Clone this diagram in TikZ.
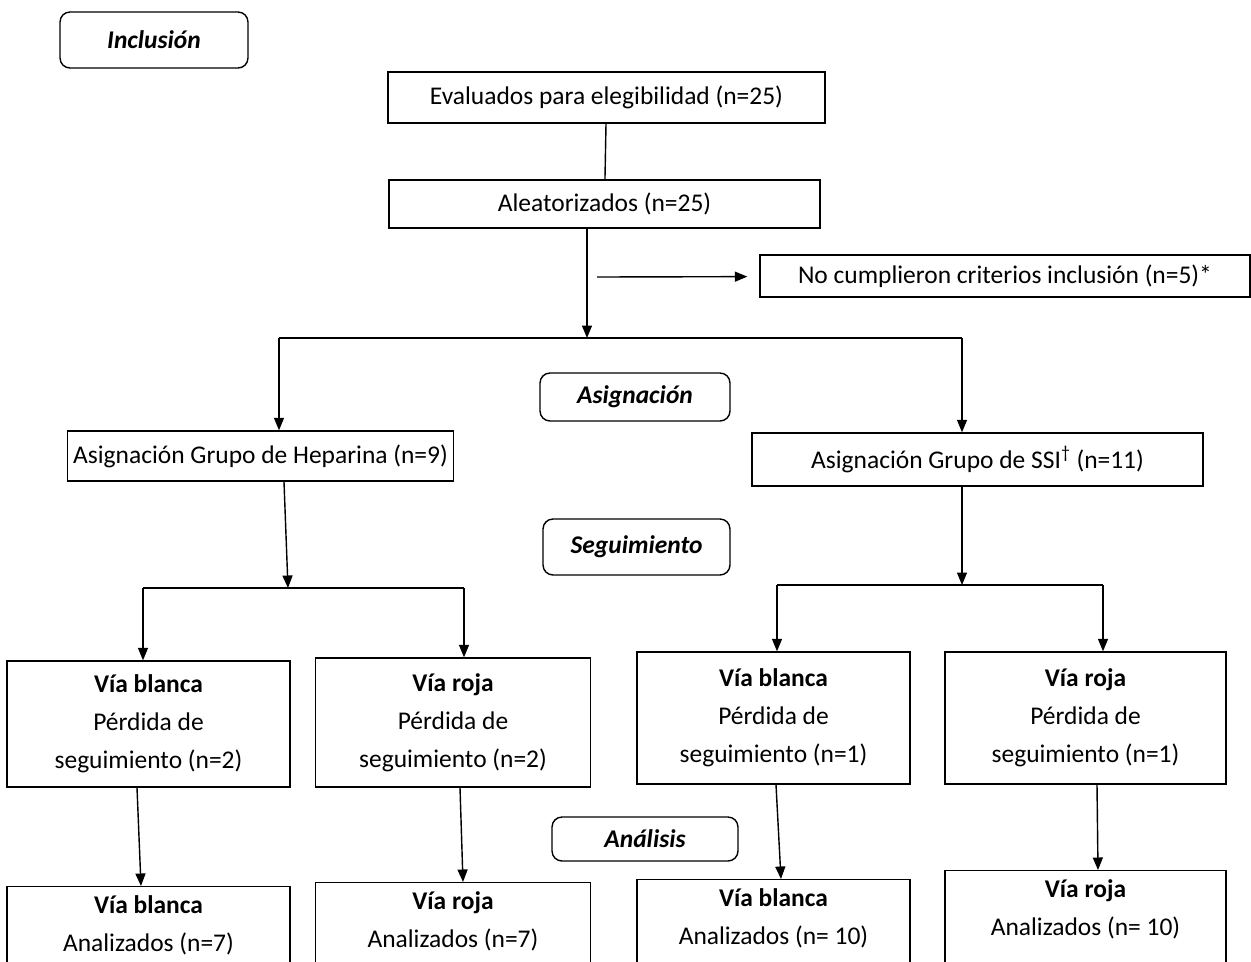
\documentclass[tikz,border=0pt]{standalone}
\usepackage{fontspec}
\setmainfont{Carlito}
\usetikzlibrary{arrows.meta, positioning, calc}

\begin{document}
\begin{tikzpicture}[
  x=0.02cm, y=-0.02cm,
  >={Triangle[length=0.25cm, width=0.2cm]},
  line width=0.8pt,
  every node/.style={font=\fontsize{14.5}{21.5}\selectfont},
  stage/.style={rectangle, draw, rounded corners=0.2cm, minimum height=1.12cm, font=\fontsize{14.5}{16}\selectfont\bfseries\itshape},
  box/.style={rectangle, draw, align=center, minimum height=0.94cm},
  arm/.style={rectangle, draw, align=center, minimum height=2.64cm},
  result/.style={rectangle, draw, align=center, anchor=north, inner ysep=0.18cm, text depth=1.6cm},
]
  \useasboundingbox (0,0) rectangle (1251,961);

  \node[stage, minimum width=3.76cm] (incl) at (154,40) {Inclusión};
  \node[box, minimum width=8.74cm, minimum height=1.02cm] (eval) at (606.5,97.5) {Evaluados para elegibilidad (n=25)};
  \node[box, minimum width=8.62cm, minimum height=0.96cm] (alea) at (604.5,204) {Aleatorizados (n=25)};
  \node[box, minimum width=9.8cm, minimum height=0.84cm] (nocum) at (1005,276) {No cumplieron criterios inclusión (n=5)*};

  \node[stage, minimum width=3.8cm, minimum height=0.96cm] (asig) at (635,397) {Asignación};
  \node[box, minimum width=7.06cm, minimum height=1.0cm] (hep) at (260.5,456) {Asignación Grupo de Heparina (n=9)};
  \node[box, minimum width=9.02cm, minimum height=1.06cm] (ssi) at (977.5,459.5) {Asignación Grupo de SSI\textsuperscript{\dag} (n=11)};

  \node[stage, minimum width=3.74cm] (segu) at (636.5,547) {Seguimiento};
  \node[arm, minimum width=5.66cm, minimum height=2.52cm] (hb) at (148.5,724) {\textbf{Vía blanca}\\Pérdida de\\seguimiento (n=2)};
  \node[arm, minimum width=5.5cm, minimum height=2.58cm] (hr) at (453,722.5) {\textbf{Vía roja}\\Pérdida de\\seguimiento (n=2)};
  \node[arm, minimum width=5.46cm, minimum height=2.64cm] (sb) at (773.5,718) {\textbf{Vía blanca}\\Pérdida de\\seguimiento (n=1)};
  \node[arm, minimum width=5.62cm, minimum height=2.64cm] (sr) at (1085.5,718) {\textbf{Vía roja}\\Pérdida de\\seguimiento (n=1)};

  \node[stage, minimum width=3.72cm, minimum height=0.88cm] (anal) at (645,839) {Análisis};
  \node[result, minimum width=5.66cm] (hb2) at (148.5,886) {\textbf{Vía blanca}\\Analizados (n=7)};
  \node[result, minimum width=5.5cm] (hr2) at (453,882) {\textbf{Vía roja}\\Analizados (n=7)};
  \node[result, minimum width=5.46cm] (sb2) at (773.5,879) {\textbf{Vía blanca}\\Analizados (n= 10)};
  \node[result, minimum width=5.62cm] (sr2) at (1085.5,870) {\textbf{Vía roja}\\Analizados (n= 10)};

  % branching points
  \coordinate (split) at (587,338);
  \coordinate (splitL) at (279,338);
  \coordinate (splitR) at (962,338);
  \coordinate (excl) at (597,277);
  \coordinate (hsplit) at (288,588);
  \coordinate (hsplitL) at (143,588);
  \coordinate (hsplitR) at (464,588);
  \coordinate (ssplit) at (962,585);
  \coordinate (ssplitL) at (777,585);
  \coordinate (ssplitR) at (1103,585);

  \draw (eval) -- (alea);
  \draw[->] (alea.south -| split) -- (split);
  \draw[->, shorten >=0.24cm] (excl) -- (nocum);
  \draw (splitL) -- (splitR);
  \draw[->] (splitL) -- (hep.north -| splitL);
  \draw[->] (splitR) -- (ssi.north -| splitR);

  \draw[->] ([xshift=0.47cm]hep.south) -- (hsplit);
  \draw (hsplitL) -- (hsplitR);
  \draw[->] (hsplitL) -- (hb.north -| hsplitL);
  \draw[->] (hsplitR) -- (hr.north -| hsplitR);
  \draw[->] (ssi.south -| ssplit) -- (ssplit);
  \draw (ssplitL) -- (ssplitR);
  \draw[->] (ssplitL) -- (sb.north -| ssplitL);
  \draw[->] (ssplitR) -- (sr.north -| ssplitR);

  \draw[->] ([xshift=-0.23cm]hb.south) -- ([xshift=-0.15cm]hb2.north);
  \draw[->] ([xshift=0.14cm]hr.south) -- ([xshift=0.2cm]hr2.north);
  \draw[->] ([xshift=0.05cm]sb.south) -- ([xshift=0.15cm]sb2.north);
  \draw[->] ([xshift=0.23cm]sr.south) -- ([xshift=0.25cm]sr2.north);
\end{tikzpicture}
\end{document}
